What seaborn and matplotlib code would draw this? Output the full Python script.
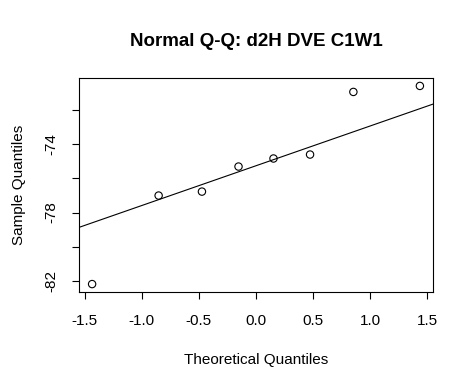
import numpy as np
import pandas as pd
import matplotlib
matplotlib.use("Agg")
import matplotlib.pyplot as plt
import seaborn as sns

theoretical = [-1.434, -0.852, -0.473, -0.153, 0.153, 0.473, 0.852, 1.434]
sample = [-82.17, -77.01, -76.78, -75.32, -74.85, -74.62, -70.97, -70.62]
xticks = [-1.5, -1.0, -0.5, 0.0, 0.5, 1.0, 1.5]
xticklabels = ["-1.5", "-1.0", "-0.5", "0.0", "0.5", "1.0", "1.5"]
yticks = [-82, -80, -78, -76, -74, -72]
yticklabels = ["-82", "", "-78", "", "-74", ""]

df = pd.DataFrame({"Theoretical": theoretical, "Sample": sample})

sns.set_style("white")
plt.rcParams["font.family"] = ["Liberation Sans", "DejaVu Sans"]
plt.rcParams["text.color"] = "black"
plt.rcParams["axes.labelcolor"] = "black"
plt.rcParams["xtick.color"] = "black"
plt.rcParams["ytick.color"] = "black"

fig = plt.figure(figsize=(4.74, 3.9), dpi=100)
ax = fig.add_axes([79/474, 1 - 292/390, (433-79)/474, (292-78)/390])

sns.scatterplot(data=df, x="Theoretical", y="Sample", ax=ax, marker="o",
                s=28, facecolor="none", edgecolor="black", linewidth=0.8, zorder=3)

# qqline through first and third quartiles
q_s = np.quantile(sample, [0.25, 0.75])
q_t = np.array([-0.6744898, 0.6744898])
slope = (q_s[1] - q_s[0]) / (q_t[1] - q_t[0])
intercept = q_s[0] - slope * q_t[0]
ax.axline((0, intercept), slope=slope, color="black", linewidth=0.8)

xr = max(theoretical) - min(theoretical)
yr = max(sample) - min(sample)
ax.set_xlim(min(theoretical) - 0.04 * xr, max(theoretical) + 0.04 * xr)
ax.set_ylim(min(sample) - 0.04 * yr, max(sample) + 0.04 * yr)

ax.set_xticks(xticks)
ax.set_xticklabels(xticklabels)
ax.set_yticks(yticks)
ax.set_yticklabels(yticklabels, rotation=90, va="center")

for sp in ax.spines.values():
    sp.set_visible(True)
    sp.set_color("black")
    sp.set_linewidth(0.8)

ax.tick_params(axis="both", which="both", direction="out", length=5, width=0.8,
               color="black", labelcolor="black", labelsize=11, bottom=True, left=True)
ax.tick_params(axis="x", pad=11)
ax.tick_params(axis="y", pad=10)

ax.set_xlabel("Theoretical Quantiles", fontsize=11, labelpad=18, color="black")
ax.set_ylabel("Sample Quantiles", fontsize=11, labelpad=13, color="black")
ax.set_title("Normal Q-Q: d2H DVE C1W1", fontsize=13.5, fontweight="bold", pad=23,
             color="black")

fig.savefig("out.png", dpi=100)
